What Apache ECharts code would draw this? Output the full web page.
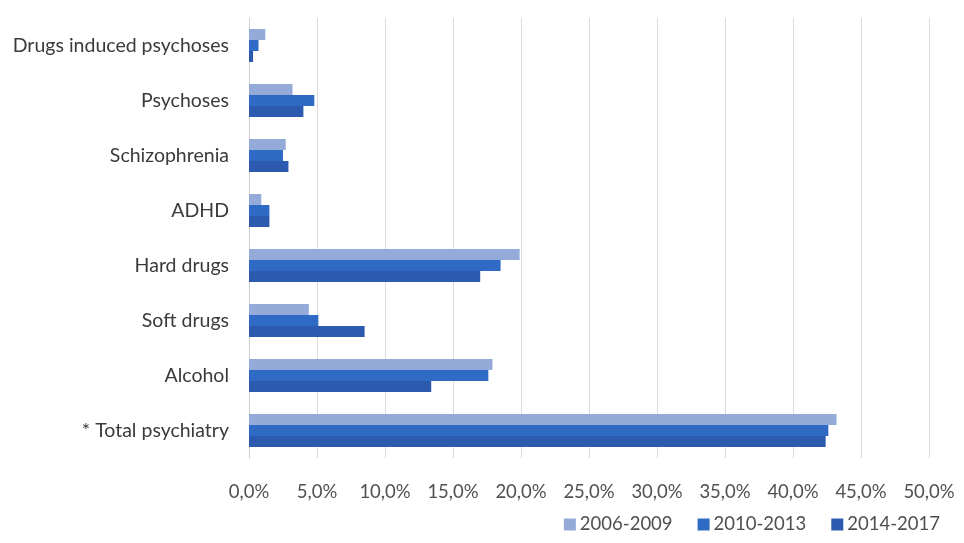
<!DOCTYPE html>
<html><head><meta charset="utf-8">
<script src="https://cdn.jsdelivr.net/npm/echarts@6/dist/echarts.min.js"></script>
<style>html,body{margin:0;padding:0;background:#fff}#c{width:964px;height:543px}</style>
</head><body><div id="c"></div>
<script>
const categories = ["Drugs induced psychoses","Psychoses","Schizophrenia","ADHD","Hard drugs","Soft drugs","Alcohol","* Total psychiatry"];
const seriesNames = ["2006-2009","2010-2013","2014-2017"];
const v2006 = [1.2, 3.2, 2.7, 0.9, 19.9, 4.4, 17.9, 43.2];
const v2010 = [0.7, 4.8, 2.5, 1.5, 18.5, 5.1, 17.6, 42.6];
const v2014 = [0.3, 4.0, 2.9, 1.5, 17.0, 8.5, 13.4, 42.4];
const colors = ["#94aad9", "#2f6bc4", "#2b5aae"];

const chart = echarts.init(document.getElementById('c'));
const font = "Lato, 'Open Sans', sans-serif";
chart.setOption({
  animation:false,
  textStyle:{fontFamily:font},
  grid:{left:249,right:35,top:18,bottom:85,containLabel:false},
  legend:{
    data:seriesNames, right:19, bottom:4, itemWidth:12, itemHeight:12, itemGap:25,
    icon:'rect', textStyle:{fontSize:18.5,color:'#505050',fontFamily:font,padding:[0,0,0,-1]}
  },
  xAxis:{
    type:'value', min:0, max:50, interval:5,
    axisLabel:{formatter:v=>v.toFixed(1).replace('.',',')+'%', fontSize:18.5, color:'#505050', margin:25, fontFamily:font},
    splitLine:{show:true,lineStyle:{color:'#dcdcdc',width:1}},
    axisLine:{show:false}, axisTick:{show:false}
  },
  yAxis:{
    type:'category', data:categories, inverse:true,
    axisLabel:{fontSize:19.5, color:'#3a3a3a', margin:20, fontFamily:font},
    axisLine:{show:true,lineStyle:{color:'#d0d0d0'}}, axisTick:{show:false}
  },
  series:[v2006,v2010,v2014].map((d,i)=>({
    name:seriesNames[i], type:'bar', data:d, barGap:'0%', barCategoryGap:'40%',
    itemStyle:{color:colors[i]}
  }))
});
</script></body></html>
